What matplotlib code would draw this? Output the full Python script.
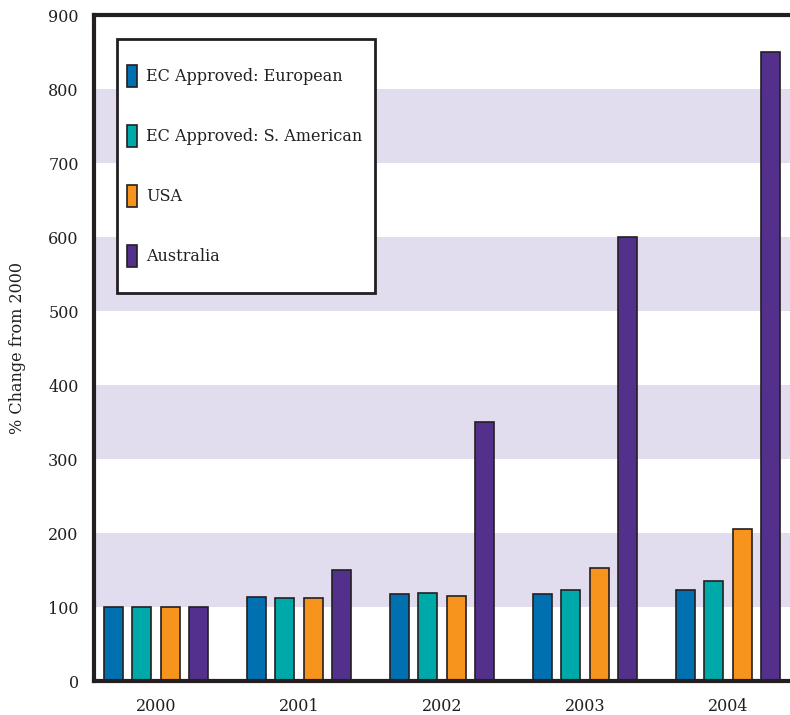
import matplotlib
matplotlib.use("Agg")
import matplotlib.pyplot as plt
from matplotlib.patches import Rectangle
import numpy as np

years = ["2000", "2001", "2002", "2003", "2004"]
series_names = ["EC Approved: European", "EC Approved: S. American", "USA", "Australia"]
european = [100, 114, 117, 118, 123]
s_american = [100, 112, 119, 123, 135]
usa = [100, 112, 115, 153, 206]
australia = [100, 150, 350, 600, 850]
yticks = [0, 100, 200, 300, 400, 500, 600, 700, 800, 900]

colors = ["#0070b0", "#00a9a9", "#f7941d", "#52308c"]
band_color = "#e1ddef"
dark = "#231f20"

plt.rcParams["font.family"] = ["DejaVu Serif"]

W, H = 790, 715
fig = plt.figure(figsize=(7.9, 7.15), dpi=100)
ax = fig.add_axes([94/W, 1-681/H, 1-94/W, (681-15)/H])

for lo in (100, 300, 500, 700):
    ax.axhspan(lo, lo + 100, color=band_color, zorder=0, lw=0)

x = np.arange(len(years))
step = 0.2
width = 0.133
all_series = [european, s_american, usa, australia]
for i, (vals, name, c) in enumerate(zip(all_series, series_names, colors)):
    ax.bar(x + (i - 1.5) * step, vals, width=width, color=c, edgecolor=dark,
           linewidth=1.2, label=name, zorder=2)

ax.set_xlim(-0.434, 4.434)
ax.set_ylim(0, 900)
ax.set_yticks(yticks)
ax.set_xticks(x)
ax.set_xticklabels(years)
ax.tick_params(axis="x", length=0, labelsize=11.5, colors=dark, pad=12)
ax.tick_params(axis="y", length=0, labelsize=11.5, colors=dark, pad=11)
ax.set_ylabel("% Change from 2000", fontsize=11.5, color=dark, labelpad=16)

for s in ("left", "bottom", "top"):
    ax.spines[s].set_linewidth(3)
    ax.spines[s].set_color(dark)
    ax.spines[s].set_zorder(5)
ax.spines["right"].set_visible(False)

# legend frame
frame = Rectangle((117/W, 1-293/H), (375-117)/W, (293-39)/H, transform=fig.transFigure,
                  facecolor="white", edgecolor=dark, linewidth=2, zorder=6)
ax.add_patch(frame)
frame.set_clip_on(False)

leg = ax.legend(loc="upper left", bbox_to_anchor=(127/W, 1-65/H),
                bbox_transform=fig.transFigure,
                borderaxespad=0, frameon=False, fontsize=11.5,
                handlelength=0.62, handleheight=1.75, labelspacing=2.37,
                borderpad=0, handletextpad=0.6)
leg.set_zorder(7)
for t in leg.get_texts():
    t.set_color(dark)

fig.savefig("out.png", dpi=100)
